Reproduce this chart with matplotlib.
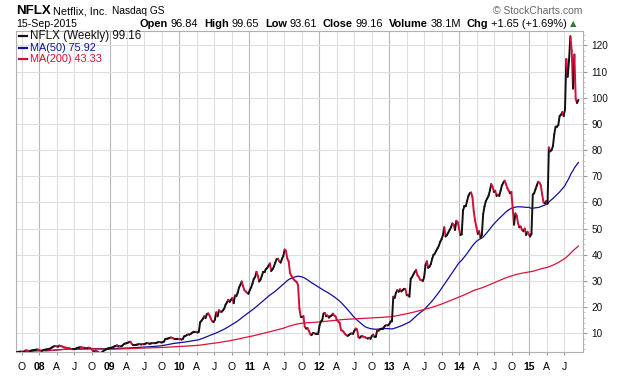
import numpy as np
import pandas as pd
import matplotlib
matplotlib.use("Agg")
import matplotlib.pyplot as plt
import matplotlib.dates as mdates
from matplotlib.collections import LineCollection
from matplotlib.lines import Line2D

plt.rcParams['font.family'] = ['Liberation Sans', 'DejaVu Sans']

# ---- weekly closes (split adjusted) ----
closes_2007 = [2.75, 2.85, 2.95, 2.98, 3.0, 2.95, 3.1, 3.5, 3.4, 3.3, 3.2, 3.4, 3.5,
               3.6, 3.7, 3.75, 3.8]
closes_2008 = [3.6, 3.4, 3.3, 3.6, 3.7, 3.8, 3.9, 4.0, 4.1, 4.4, 4.8, 5.0, 5.2,
               5.0, 4.9, 5.3, 5.2, 5.0, 4.8, 4.6, 4.5, 4.4, 4.3, 4.2, 4.0, 3.9,
               3.9, 4.0, 4.4, 4.5, 4.6, 4.7, 4.6, 4.5, 4.4, 4.4, 4.3, 4.5, 4.4,
               4.0, 3.3, 3.0, 3.4, 3.2, 2.8, 2.6, 2.5, 2.8, 3.3, 3.6, 3.9, 4.2]
closes_2009 = [4.3, 4.4, 4.5, 4.7, 5.0, 5.2, 5.4, 5.0, 5.1, 5.0, 5.3, 5.8, 6.1,
               6.2, 6.4, 6.6, 6.8, 6.0, 5.5, 5.6, 5.6, 5.7, 5.8, 5.9, 5.7, 5.9,
               5.8, 6.0, 6.2, 6.3, 6.0, 6.1, 6.2, 6.3, 6.2, 6.3, 6.5, 6.6, 6.6,
               6.5, 6.6, 6.8, 7.8, 7.9, 8.0, 8.2, 8.4, 8.3, 8.0, 7.8, 7.8, 7.9]
closes_2010 = [7.9, 7.8, 7.6, 7.8, 8.8, 9.0, 9.3, 9.6, 9.5, 9.8, 10.2, 10.5, 10.6,
               10.6, 10.3, 10.6, 14.2, 14.8, 15.5, 16.5, 15.8, 17.3, 17.6, 16.8,
               15.5, 14.6, 14.3, 15.2, 18.0, 16.5, 18.8, 18.3, 18.2, 18.8, 19.5,
               21.0, 21.8, 22.8, 22.0, 22.8, 23.5, 21.5, 24.5, 24.2, 25.5, 27.5,
               28.5, 29.8, 28.0, 26.5, 26.0, 25.5, 25.1]
closes_2011 = [26.5, 27.5, 29.0, 30.8, 31.5, 33.5, 32.0, 29.8, 30.5, 32.0, 33.5,
               33.5, 34.5, 35.0, 35.8, 36.7, 33.8, 34.5, 35.5, 37.0, 38.3, 38.5,
               37.5, 37.0, 38.5, 39.5, 42.0, 41.5, 38.5, 37.5, 33.0, 32.0, 31.0,
               30.5, 30.0, 29.5, 28.5, 19.5, 16.3, 16.3, 16.5, 12.5, 11.8, 12.0,
               11.0, 9.8, 9.3, 10.0, 10.0, 9.8, 9.9, 9.9]
closes_2012 = [13.0, 14.5, 15.0, 17.5, 17.8, 16.5, 16.8, 16.0, 16.5, 16.8, 17.5,
               16.8, 16.4, 15.0, 14.5, 14.0, 11.3, 11.0, 10.5, 9.8, 9.3, 9.0, 9.4,
               9.8, 10.0, 9.8, 11.0, 11.8, 11.5, 8.5, 8.3, 8.8, 8.9, 8.6, 8.5, 8.2,
               8.0, 8.3, 7.9, 9.0, 9.5, 8.6, 8.7, 11.3, 11.0, 11.5, 11.8, 11.8,
               12.3, 12.9, 13.2, 13.0]
closes_2013 = [13.5, 14.5, 14.6, 24.0, 23.5, 25.5, 26.5, 25.9, 26.8, 26.0, 26.5,
               27.0, 27.0, 24.5, 24.5, 24.0, 30.8, 31.5, 32.5, 33.5, 34.2, 32.2,
               31.5, 30.5, 30.3, 30.0, 31.5, 36.0, 37.5, 35.0, 35.5, 36.5, 38.5,
               40.0, 40.5, 41.5, 42.5, 43.5, 45.0, 46.0, 47.5, 50.5, 47.0, 47.5,
               48.5, 49.5, 50.5, 52.0, 51.5, 49.5, 53.0, 52.5]
closes_2014 = [50.0, 47.6, 47.8, 57.0, 58.5, 58.5, 60.5, 62.5, 63.5, 63.8, 62.0,
               56.5, 53.0, 50.5, 48.0, 49.0, 46.5, 47.5, 55.5, 58.5, 60.5, 61.5,
               62.5, 64.5, 67.0, 66.0, 64.0, 64.5, 62.5, 63.0, 62.5, 64.5, 66.5,
               67.5, 68.3, 67.0, 65.5, 64.5, 63.5, 64.0, 58.0, 51.5, 55.8, 55.0,
               52.0, 50.5, 50.8, 49.5, 49.0, 50.0, 47.6, 48.8]
closes_2015 = [47.8, 47.0, 48.0, 63.0, 63.5, 65.0, 66.5, 67.9, 67.5, 66.5, 63.0,
               60.0, 59.7, 60.5, 59.5, 81.0, 79.5, 80.0, 81.5, 86.0, 89.0, 89.0,
               89.5, 93.0, 93.5, 94.5, 93.0, 95.5, 114.8, 108.0, 114.3, 123.5,
               118.0, 103.5, 116.5, 99.5, 98.0, 99.16]

year_labels = ['08', '09', '10', '11', '12', '13', '14', '15']
month_labels = {4: 'A', 7: 'J', 10: 'O'}
y_ticks = [10, 20, 30, 40, 50, 60, 70, 80, 90, 100, 110, 120]

closes = np.array(closes_2007 + closes_2008 + closes_2009 + closes_2010 + closes_2011 +
                  closes_2012 + closes_2013 + closes_2014 + closes_2015)
dates = pd.date_range(end='2015-09-14', periods=len(closes), freq='7D')
s = pd.Series(closes, index=dates)
ma50 = s.rolling(50, min_periods=1).mean()
ma200 = s.rolling(200, min_periods=1).mean()

W, H = 620, 376
fig = plt.figure(figsize=(W / 100, H / 100), dpi=100)
L, R, T, B = 16, 583, 31, 352
ax = fig.add_axes([L / W, 1 - B / H, (R - L) / W, (B - T) / H])

xd = mdates.date2num(dates)
ax.set_xlim(mdates.date2num(pd.Timestamp('2007-09-01')),
            mdates.date2num(pd.Timestamp('2015-10-08')))
ax.set_ylim(2.86, 125.5)

# grid
qdates = pd.date_range('2007-10-01', '2015-07-01', freq='QS')
for d in qdates:
    c = '#b8b8b8' if d.month == 1 else '#dedede'
    ax.axvline(mdates.date2num(d), color=c, lw=0.8, zorder=0)
for yv in y_ticks:
    ax.axhline(yv, color='#dedede', lw=0.8, zorder=0)

# MAs
m50 = dates >= pd.Timestamp('2008-02-01')
ax.plot(xd[m50], ma50.values[m50], color='#10109a', lw=0.9, zorder=2)
ax.plot(xd, ma200.values, color='#e0103a', lw=0.9, zorder=2)

# price line colored by direction
pts = np.column_stack([xd, closes])
segs = np.stack([pts[:-1], pts[1:]], axis=1)
cols = ['#111111' if closes[i + 1] >= closes[i] else '#d0103a' for i in range(len(closes) - 1)]
lc = LineCollection(segs, colors=cols, linewidths=1.4, zorder=3, capstyle='round')
ax.add_collection(lc)

# axes styling
for sp in ax.spines.values():
    sp.set_color('#b0b0b0')
    sp.set_linewidth(0.8)
ax.yaxis.tick_right()
ax.set_yticks(y_ticks)
ax.set_yticklabels([str(v) for v in y_ticks])
ax.set_yticks(np.arange(4, 125, 2), minor=True)
ax.tick_params(axis='y', which='major', length=3, color='#999999', labelsize=7.2,
               pad=3, labelcolor='#111111')
ax.tick_params(axis='y', which='minor', length=1.5, color='#bbbbbb')

xt_labels = []
for d in qdates:
    if d.month == 1:
        xt_labels.append(year_labels[d.year - 2008])
    else:
        xt_labels.append(month_labels[d.month])
ax.set_xticks(mdates.date2num(qdates))
ax.set_xticklabels(xt_labels)
for lbl, t in zip(ax.get_xticklabels(), xt_labels):
    if t.isdigit():
        lbl.set_fontweight('bold')
        lbl.set_fontsize(8)
ax.tick_params(axis='x', length=2, color='#999999', labelsize=7.5, pad=5.5)


def ftext(x, y, s, **kw):
    kw.setdefault('va', 'center')
    return fig.text(x / W, 1 - y / H, s, **kw)


# header
ftext(16, 10.5, 'NFLX', fontsize=9.5, fontweight='bold')
ftext(53, 11, 'Netflix, Inc.', fontsize=7.8)
ftext(112, 11.5, 'Nasdaq GS', fontsize=7.3)
ftext(582, 10.5, '\u00a9 StockCharts.com', fontsize=7.5, color='#666666', ha='right')
ftext(16, 24, '15-Sep-2015', fontsize=7.6)

hdr = [('Open', True), ('96.84', False), ('High', True), ('99.65', False),
       ('Low', True), ('93.61', False), ('Close', True), ('99.16', False),
       ('Volume', True), ('38.1M', False), ('Chg', True), ('+1.65 (+1.69%)', False)]
renderer = fig.canvas.get_renderer()
xpos = 140.0
for txt, bold in hdr:
    t = ftext(xpos, 24, txt, fontsize=7.9, fontweight='bold' if bold else 'normal')
    w = t.get_window_extent(renderer).width
    xpos += w + (2.5 if bold else 6.0)
ftext(xpos - 3.0, 23.5, '\u25b2', fontsize=6, color='#2e7d32', family=['DejaVu Sans'])

# legend
leg = [(35.7, 'NFLX (Weekly) 99.16', '#111111', 8.4),
       (47.7, 'MA(50) 75.92', '#10109a', 7.8),
       (59.0, 'MA(200) 43.33', '#d0103a', 7.8)]
for yy, txt, c, fs in leg:
    fig.add_artist(Line2D([19 / W, 27 / W], [1 - yy / H, 1 - yy / H], color=c, lw=1.6))
    ftext(30, yy, txt, fontsize=fs, color=c)

fig.savefig('out.png', dpi=100)
